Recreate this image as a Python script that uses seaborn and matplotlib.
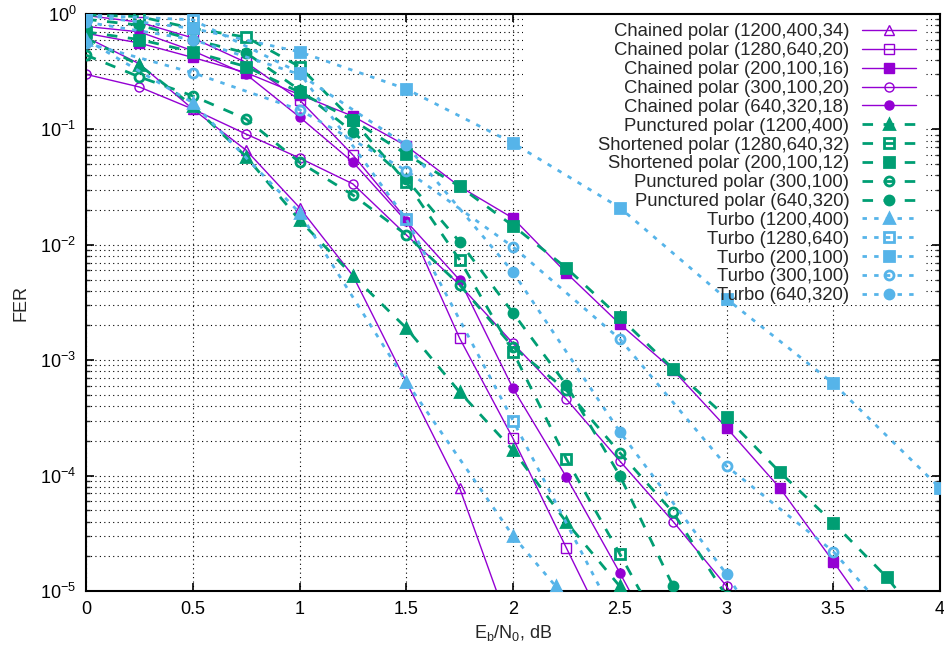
"""
FER vs Eb/N0 for chained / punctured / shortened polar codes and turbo codes.
"""

import numpy as np
import matplotlib
matplotlib.use("Agg")
import matplotlib.pyplot as plt
import seaborn as sns
from matplotlib.patches import Rectangle
from matplotlib.ticker import FixedLocator, FuncFormatter, LogLocator

PURPLE = "#9400D3"
GREEN = "#009E73"
BLUE = "#56B4E9"

Q = [0, 0.25, 0.5, 0.75, 1.0, 1.25, 1.5, 1.75, 2.0, 2.25, 2.5, 2.75, 3.0, 3.25, 3.5, 3.75, 4.0]
H = [0, 0.5, 1.0, 1.5, 2.0, 2.5, 3.0, 3.5, 4.0]

# chained polar
cp_1200_x = Q[:9]
cp_1200 = [0.63, 0.37, 0.15, 0.066, 0.021, 5.4e-3, 6.5e-4, 7.8e-5, 4e-6]
cp_1280_x = Q[:11]
cp_1280 = [0.97, 0.85, 0.62, 0.38, 0.18, 0.06, 0.0167, 1.55e-3, 2.1e-4, 2.36e-5, 2.7e-6]
cp_200_x = Q[:16]
cp_200 = [0.68, 0.56, 0.42, 0.31, 0.20, 0.13, 0.072, 0.032, 0.017, 5.7e-3, 2.06e-3,
          8.2e-4, 2.6e-4, 7.8e-5, 1.8e-5, 4e-6]
cp_300_x = Q[:14]
cp_300 = [0.30, 0.233, 0.15, 0.091, 0.0565, 0.0337, 0.0122, 4.5e-3, 1.4e-3, 4.6e-4,
          1.34e-4, 4.0e-5, 1.1e-5, 2.5e-6]
cp_640_x = Q[:12]
cp_640 = [0.78, 0.70, 0.48, 0.30, 0.128, 0.052, 0.016, 4.95e-3, 5.7e-4, 9.7e-5, 1.44e-5, 2e-6]

# punctured / shortened polar
pp_1200_x = Q[:12]
pp_1200 = [0.62, 0.36, 0.16, 0.058, 0.0164, 5.4e-3, 1.9e-3, 5.3e-4, 1.66e-4, 3.95e-5, 1.1e-5, 3e-6]
sp_1280_x = Q[:12]
sp_1280 = [0.98, 0.95, 0.75, 0.63, 0.35, 0.12, 0.035, 7.4e-3, 1.18e-3, 1.39e-4, 2.1e-5, 3e-6]
sp_200_x = Q[:17]
sp_200 = [0.70, 0.60, 0.47, 0.35, 0.21, 0.12, 0.061, 0.032, 0.0146, 6.3e-3, 2.35e-3,
          8.4e-4, 3.2e-4, 1.07e-4, 3.9e-5, 1.32e-5, 3.5e-6]
pp_300_x = Q[:13]
pp_300 = [0.44, 0.285, 0.195, 0.123, 0.052, 0.027, 0.0122, 4.5e-3, 1.3e-3, 5.5e-4,
          1.58e-4, 4.8e-5, 9e-6]
pp_640_x = Q[:12]
pp_640 = [0.9, 0.8, 0.6, 0.46, 0.22, 0.095, 0.037, 0.0106, 2.57e-3, 6.1e-4, 1.0e-4, 1.1e-5]

# turbo
tb_1200_x = [0, 0.5, 1.0, 1.5, 2.0, 2.2]
tb_1200 = [0.6, 0.17, 0.019, 6.5e-4, 3.0e-5, 1.1e-5]
tb_1280_x = H[:6]
tb_1280 = [0.98, 0.89, 0.31, 0.0167, 3.0e-4, 5e-6]
tb_200_x = H
tb_200 = [0.97, 0.75, 0.47, 0.224, 0.076, 0.021, 3.4e-3, 6.3e-4, 7.8e-5]
tb_300_x = H
tb_300 = [0.56, 0.31, 0.148, 0.044, 9.6e-3, 1.53e-3, 1.21e-4, 2.2e-5, 2e-6]
tb_640_x = H[:8]
tb_640 = [0.85, 0.6, 0.3, 0.073, 5.8e-3, 2.4e-4, 1.4e-5, 5e-7]

labels = [
    "Chained polar (1200,400,34)", "Chained polar (1280,640,20)", "Chained polar (200,100,16)",
    "Chained polar (300,100,20)", "Chained polar (640,320,18)",
    "Punctured polar (1200,400)", "Shortened polar (1280,640,32)", "Shortened polar (200,100,12)",
    "Punctured polar (300,100)", "Punctured polar (640,320)",
    "Turbo (1200,400)", "Turbo (1280,640)", "Turbo (200,100)", "Turbo (300,100)", "Turbo (640,320)",
]
xs = [cp_1200_x, cp_1280_x, cp_200_x, cp_300_x, cp_640_x,
      pp_1200_x, sp_1280_x, sp_200_x, pp_300_x, pp_640_x,
      tb_1200_x, tb_1280_x, tb_200_x, tb_300_x, tb_640_x]
ys = [cp_1200, cp_1280, cp_200, cp_300, cp_640,
      pp_1200, sp_1280, sp_200, pp_300, pp_640,
      tb_1200, tb_1280, tb_200, tb_300, tb_640]

# marker shape and filled flag per position inside each family
marks = [("^", False), ("s", False), ("s", True), ("o", False), ("o", True)]
marks_thick = [("^", True), ("s", False), ("s", True), ("o", False), ("o", True)]

sns.set_style("ticks")
plt.rcParams["font.family"] = ["Liberation Sans", "DejaVu Sans"]
plt.rcParams["mathtext.default"] = "regular"

fig = plt.figure(figsize=(9.44, 6.53), dpi=100)
ax = fig.add_axes([0.0911, 0.0949, 0.9047, 0.8837])
ax.set_axisbelow(True)

for i, (lab, x, y) in enumerate(zip(labels, xs, ys)):
    fam = i // 5
    if fam == 0:
        color, ls, lw, mew = PURPLE, "-", 1.0, 1.0
        m, filled = marks[i % 5]
    elif fam == 1:
        color, ls, lw, mew = GREEN, (0, (3.8, 3.8)), 2.0, 2.0
        m, filled = marks_thick[i % 5]
    else:
        color, ls, lw, mew = BLUE, (0, (1.6, 2.6)), 2.0, 2.0
        m, filled = marks_thick[i % 5]
    ms = 7.5 if m == "^" else 6.5
    sns.lineplot(x=x, y=y, ax=ax, color=color, linestyle=ls, linewidth=lw,
                 marker=m, markersize=ms, markeredgewidth=mew, markeredgecolor=color,
                 markerfacecolor=color if filled else "none", label=lab,
                 sort=False, zorder=2 + fam)

ax.set_yscale("log")
ax.set_xlim(0, 4)
ax.set_ylim(1e-5, 1)
ax.xaxis.set_major_locator(FixedLocator(H))
ax.xaxis.set_major_formatter(FuncFormatter(lambda v, p: f"{v:g}"))
ax.yaxis.set_major_locator(LogLocator(base=10, numticks=10))
ax.yaxis.set_minor_locator(LogLocator(base=10, subs=np.arange(2, 10), numticks=20))
ax.yaxis.set_major_formatter(FuncFormatter(lambda v, p: r"$10^{%d}$" % round(np.log10(v))))

ax.grid(which="major", axis="both", color="black", linestyle=(0, (1, 3)), linewidth=0.8)
ax.grid(which="minor", axis="y", color="black", linestyle=(0, (1, 3)), linewidth=0.8)
ax.tick_params(which="major", direction="in", length=6, width=1.2, top=True, right=True,
               labelsize=13, colors="black", pad=7)
ax.tick_params(which="minor", direction="in", length=3, width=1.0, right=True)
for s in ax.spines.values():
    s.set_linewidth(1.5)
    s.set_color("black")

# opaque key area: hides the grid but not the curves
ax.add_patch(Rectangle((0.512, 0.496), 0.47, 0.504, transform=ax.transAxes,
                       facecolor="white", edgecolor="none", zorder=1))

ax.set_xlabel("E$_{b}$/N$_{0}$, dB", fontsize=13, labelpad=4)
ax.set_ylabel("FER", fontsize=13, labelpad=8)

leg = ax.legend(loc="upper right", frameon=False, markerfirst=False,
                fontsize=13.3, handlelength=2.9, handletextpad=0.7, labelspacing=0.1,
                borderpad=0.2, borderaxespad=0.0, bbox_to_anchor=(0.976, 0.99))
leg.set_zorder(10)

fig.savefig("out.png", dpi=100)
